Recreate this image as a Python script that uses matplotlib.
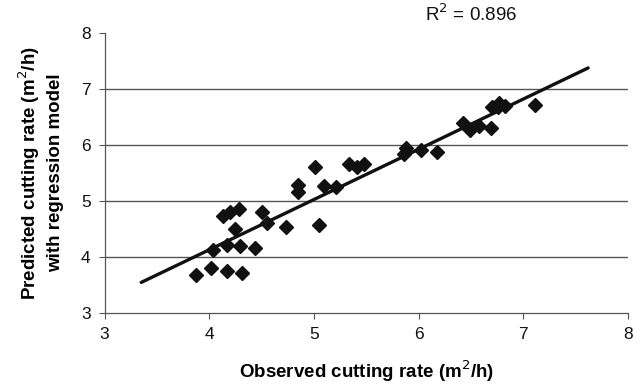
import matplotlib
matplotlib.use("Agg")
import matplotlib.pyplot as plt
import numpy as np

plt.rcParams['font.family'] = ['Liberation Sans', 'DejaVu Sans']

observed = [3.87, 4.02, 4.17, 4.31, 4.04, 4.17, 4.29, 4.44, 4.25, 4.13, 4.20, 4.28,
            4.50, 4.55, 4.73, 4.85, 4.85, 5.01, 5.05, 5.10, 5.21, 5.34, 5.41, 5.48,
            5.88, 5.86, 6.02, 6.18, 6.42, 6.49, 6.58, 6.69, 6.70, 6.77, 6.76, 6.83, 7.11]
predicted = [3.68, 3.80, 3.75, 3.71, 4.13, 4.22, 4.20, 4.17, 4.51, 4.74, 4.80, 4.86,
             4.80, 4.61, 4.54, 5.29, 5.17, 5.61, 4.58, 5.27, 5.26, 5.67, 5.61, 5.67,
             5.95, 5.84, 5.92, 5.87, 6.40, 6.27, 6.34, 6.30, 6.68, 6.76, 6.68, 6.69, 6.72]

trend_x = [3.35, 7.62]
trend_slope = 0.896
trend_intercept = 0.549
r2_text = "R$^2$ = 0.896"

x_ticks = [3, 4, 5, 6, 7, 8]
y_ticks = [3, 4, 5, 6, 7, 8]
grid_y = [4, 5, 6, 7]

fig = plt.figure(figsize=(6.44, 3.90), dpi=100)
ax = fig.add_axes([0.1624, 0.1967, 0.975 - 0.1624, 0.9154 - 0.1967])

for g in grid_y:
    ax.axhline(g, color='#555555', lw=1.0, zorder=1)

ax.plot(observed, predicted, linestyle='none', marker='D', ms=7.5,
        color='#111111', zorder=3)

tx = np.array(trend_x)
ax.plot(tx, trend_slope * tx + trend_intercept, color='#111111', lw=2.4,
        solid_capstyle='round', zorder=4)

ax.set_xlim(3, 8)
ax.set_ylim(3, 8)
ax.set_xticks(x_ticks)
ax.set_yticks(y_ticks)
ax.tick_params(axis='both', direction='out', length=4, width=0.8,
               colors='#555555', labelcolor='#111111', labelsize=12.5, pad=6)
for s in ['top', 'right']:
    ax.spines[s].set_visible(False)
for s in ['left', 'bottom']:
    ax.spines[s].set_color('#555555')
    ax.spines[s].set_linewidth(0.9)

ax.set_xlabel("Observed cutting rate (m$^2$/h)", fontsize=13.5, fontweight='bold',
              labelpad=12)
ax.set_ylabel("Predicted cutting rate (m$^{2}$/h)\nwith regression model",
              fontsize=13.5, fontweight='bold', labelpad=12, linespacing=1.4)

fig.text(425 / 644, 1 - 14 / 390, r2_text, fontsize=13.5, ha='left', va='center',
         color='#111111')

fig.savefig("out.png", dpi=100)
